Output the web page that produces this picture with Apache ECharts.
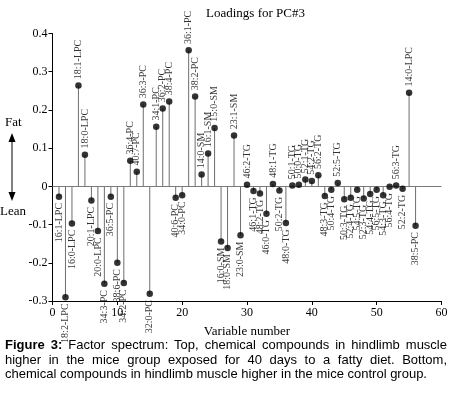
<!DOCTYPE html>
<html>
<head>
<meta charset="utf-8">
<script src="https://cdn.jsdelivr.net/npm/echarts@6/dist/echarts.min.js"></script>
<style>
  body { margin: 0; background: #fff; }
  #chart { width: 455px; height: 395px; }
  #caption {
    position: absolute; left: 5px; top: 338px; width: 442px;
    font-family: "Liberation Sans", Arial, sans-serif; font-size: 13px;
    line-height: 14.5px; text-align: justify; color: #000;
  }
</style>
</head>
<body>
<div id="chart"></div>
<div id="caption"><b>Figure 3:</b> Factor spectrum: Top, chemical compounds in hindlimb muscle higher in the mice group exposed for 40 days to a fatty diet. Bottom, chemical compounds in hindlimb muscle higher in the mice control group.</div>
<script>
// variable number, compound name, loading on PC#3
const varNumbers = [1, 2, 3, 4, 5, 6, 7, 8, 9, 10, 11, 12, 13, 14, 15, 16, 17, 18, 19, 20,
  21, 22, 23, 24, 25, 26, 27, 28, 29, 30, 31, 32, 33, 34, 35, 36, 37, 38, 39, 40,
  41, 42, 43, 44, 45, 46, 47, 48, 49, 50, 51, 52, 53, 54, 55, 56]
const compounds = ['16:1-LPC', '18:2-LPC', '16:0-LPC', '18:1-LPC', '18:0-LPC', '20:1-LPC', '20:0-LPC',
  '34:3-PC', '36:5-PC', '38:6-PC', '34:2-PC', '36:4-PC', '40:7-PC', '36:3-PC', '32:0-PC', '34:1-PC',
  '36:2-PC', '38:4-PC', '40:6-PC', '34:0-PC', '36:1-PC', '38:2-PC', '14:0-SM', '16:1-SM', '15:0-SM',
  '16:0-SM', '18:0-SM', '23:1-SM', '23:0-SM', '46:2-TG', '46:1-TG', '48:2-TG', '46:0-TG', '48:1-TG',
  '50:2-TG', '48:0-TG', '50:1-TG', '50:0-TG', '52:1-TG', '54:2-TG', '56:2-TG', '48:3-TG', '50:4-TG',
  '52:5-TG', '50:3-TG', '52:4-TG', '54:5-TG', '52:3-TG', '54:4-TG', '56:5-TG', '54:3-TG', '56:4-TG',
  '56:3-TG', '52:2-TG', '14:0-LPC', '38:5-PC']
const loadings = [-0.027, -0.290, -0.097, 0.264, 0.083, -0.037, -0.117, -0.255, -0.027, -0.200,
  -0.253, 0.067, 0.038, 0.214, -0.281, 0.156, 0.204, 0.222, -0.030, -0.023, 0.356, 0.235,
  0.031, 0.086, 0.153, -0.144, -0.161, 0.133, -0.128, 0.004, -0.012, -0.019, -0.072, 0.006,
  -0.011, -0.096, 0.002, 0.004, 0.018, 0.014, 0.029, -0.025, -0.009, 0.009, -0.034, -0.030,
  -0.009, -0.032, -0.020, -0.009, -0.023, -0.001, 0.002, -0.006, 0.245, -0.103]
const xTicks = [0, 60, 10]
const yTicks = [-0.3, 0.4, 0.1]

const serif = '"Liberation Serif", "Times New Roman", serif'

let chart = echarts.init(document.getElementById('chart'))

let stems = varNumbers.map((v, i) => [v, loadings[i]])
let dots = varNumbers.map((v, i) => {
  let up = loadings[i] >= 0
  return {
    value: [v, loadings[i]],
    label: {
      position: up ? 'top' : 'bottom',
      align: up ? 'left' : 'right'
    }
  }
})

chart.setOption({
  backgroundColor: '#fff',
  animation: false,
  title: {
    text: 'Loadings for PC#3',
    left: 201,
    top: 2,
    textStyle: { fontFamily: serif, fontSize: 13, fontWeight: 'normal', color: '#000' }
  },
  grid: { left: 52.5, right: 13.5, top: 33.5, bottom: 94 },
  xAxis: {
    type: 'value',
    min: xTicks[0],
    max: xTicks[1],
    interval: xTicks[2],
    name: 'Variable number',
    nameLocation: 'middle',
    nameGap: 24,
    nameTextStyle: { fontFamily: serif, fontSize: 13, color: '#000' },
    splitLine: { show: false },
    axisLine: { onZero: false, lineStyle: { color: '#000', width: 1 } },
    axisTick: { length: 4, lineStyle: { color: '#000' } },
    axisLabel: { fontFamily: serif, fontSize: 12, color: '#000', margin: 6 }
  },
  yAxis: {
    type: 'value',
    min: yTicks[0],
    max: yTicks[1],
    interval: yTicks[2],
    splitLine: { show: false },
    axisLine: { show: true, onZero: false, lineStyle: { color: '#000', width: 1 } },
    axisTick: { show: true, length: 4, lineStyle: { color: '#000' } },
    axisLabel: {
      fontFamily: serif, fontSize: 12, color: '#000', margin: 5,
      formatter: v => Math.abs(v) < 1e-9 ? '0' : v.toFixed(1)
    }
  },
  graphic: [
    { type: 'text', left: 5, top: 116, style: { text: 'Fat', font: '13px ' + serif, fill: '#000' } },
    { type: 'text', left: 0, top: 205, style: { text: 'Lean', font: '13px ' + serif, fill: '#000' } },
    { type: 'line', shape: { x1: 12, y1: 138, x2: 12, y2: 196 }, style: { stroke: '#000', lineWidth: 1 } },
    { type: 'polygon', shape: { points: [[12, 133], [8.5, 142], [15.5, 142]] }, style: { fill: '#000' } },
    { type: 'polygon', shape: { points: [[12, 201], [8.5, 192], [15.5, 192]] }, style: { fill: '#000' } }
  ],
  series: [
    {
      type: 'bar',
      data: stems,
      barWidth: 1,
      itemStyle: { color: '#6e6e6e' },
      silent: true,
      markLine: {
        silent: true,
        symbol: 'none',
        label: { show: false },
        lineStyle: { color: '#7a7a7a', type: 'solid', width: 1 },
        data: [{ yAxis: 0 }]
      }
    },
    {
      type: 'scatter',
      data: dots,
      symbol: 'circle',
      symbolSize: 6.5,
      z: 5,
      itemStyle: { color: '#000' },
      label: {
        show: true,
        rotate: 90,
        distance: 3,
        verticalAlign: 'middle',
        fontFamily: serif,
        fontSize: 10,
        color: '#000',
        formatter: p => compounds[p.dataIndex]
      }
    }
  ]
})
</script>
</body>
</html>
